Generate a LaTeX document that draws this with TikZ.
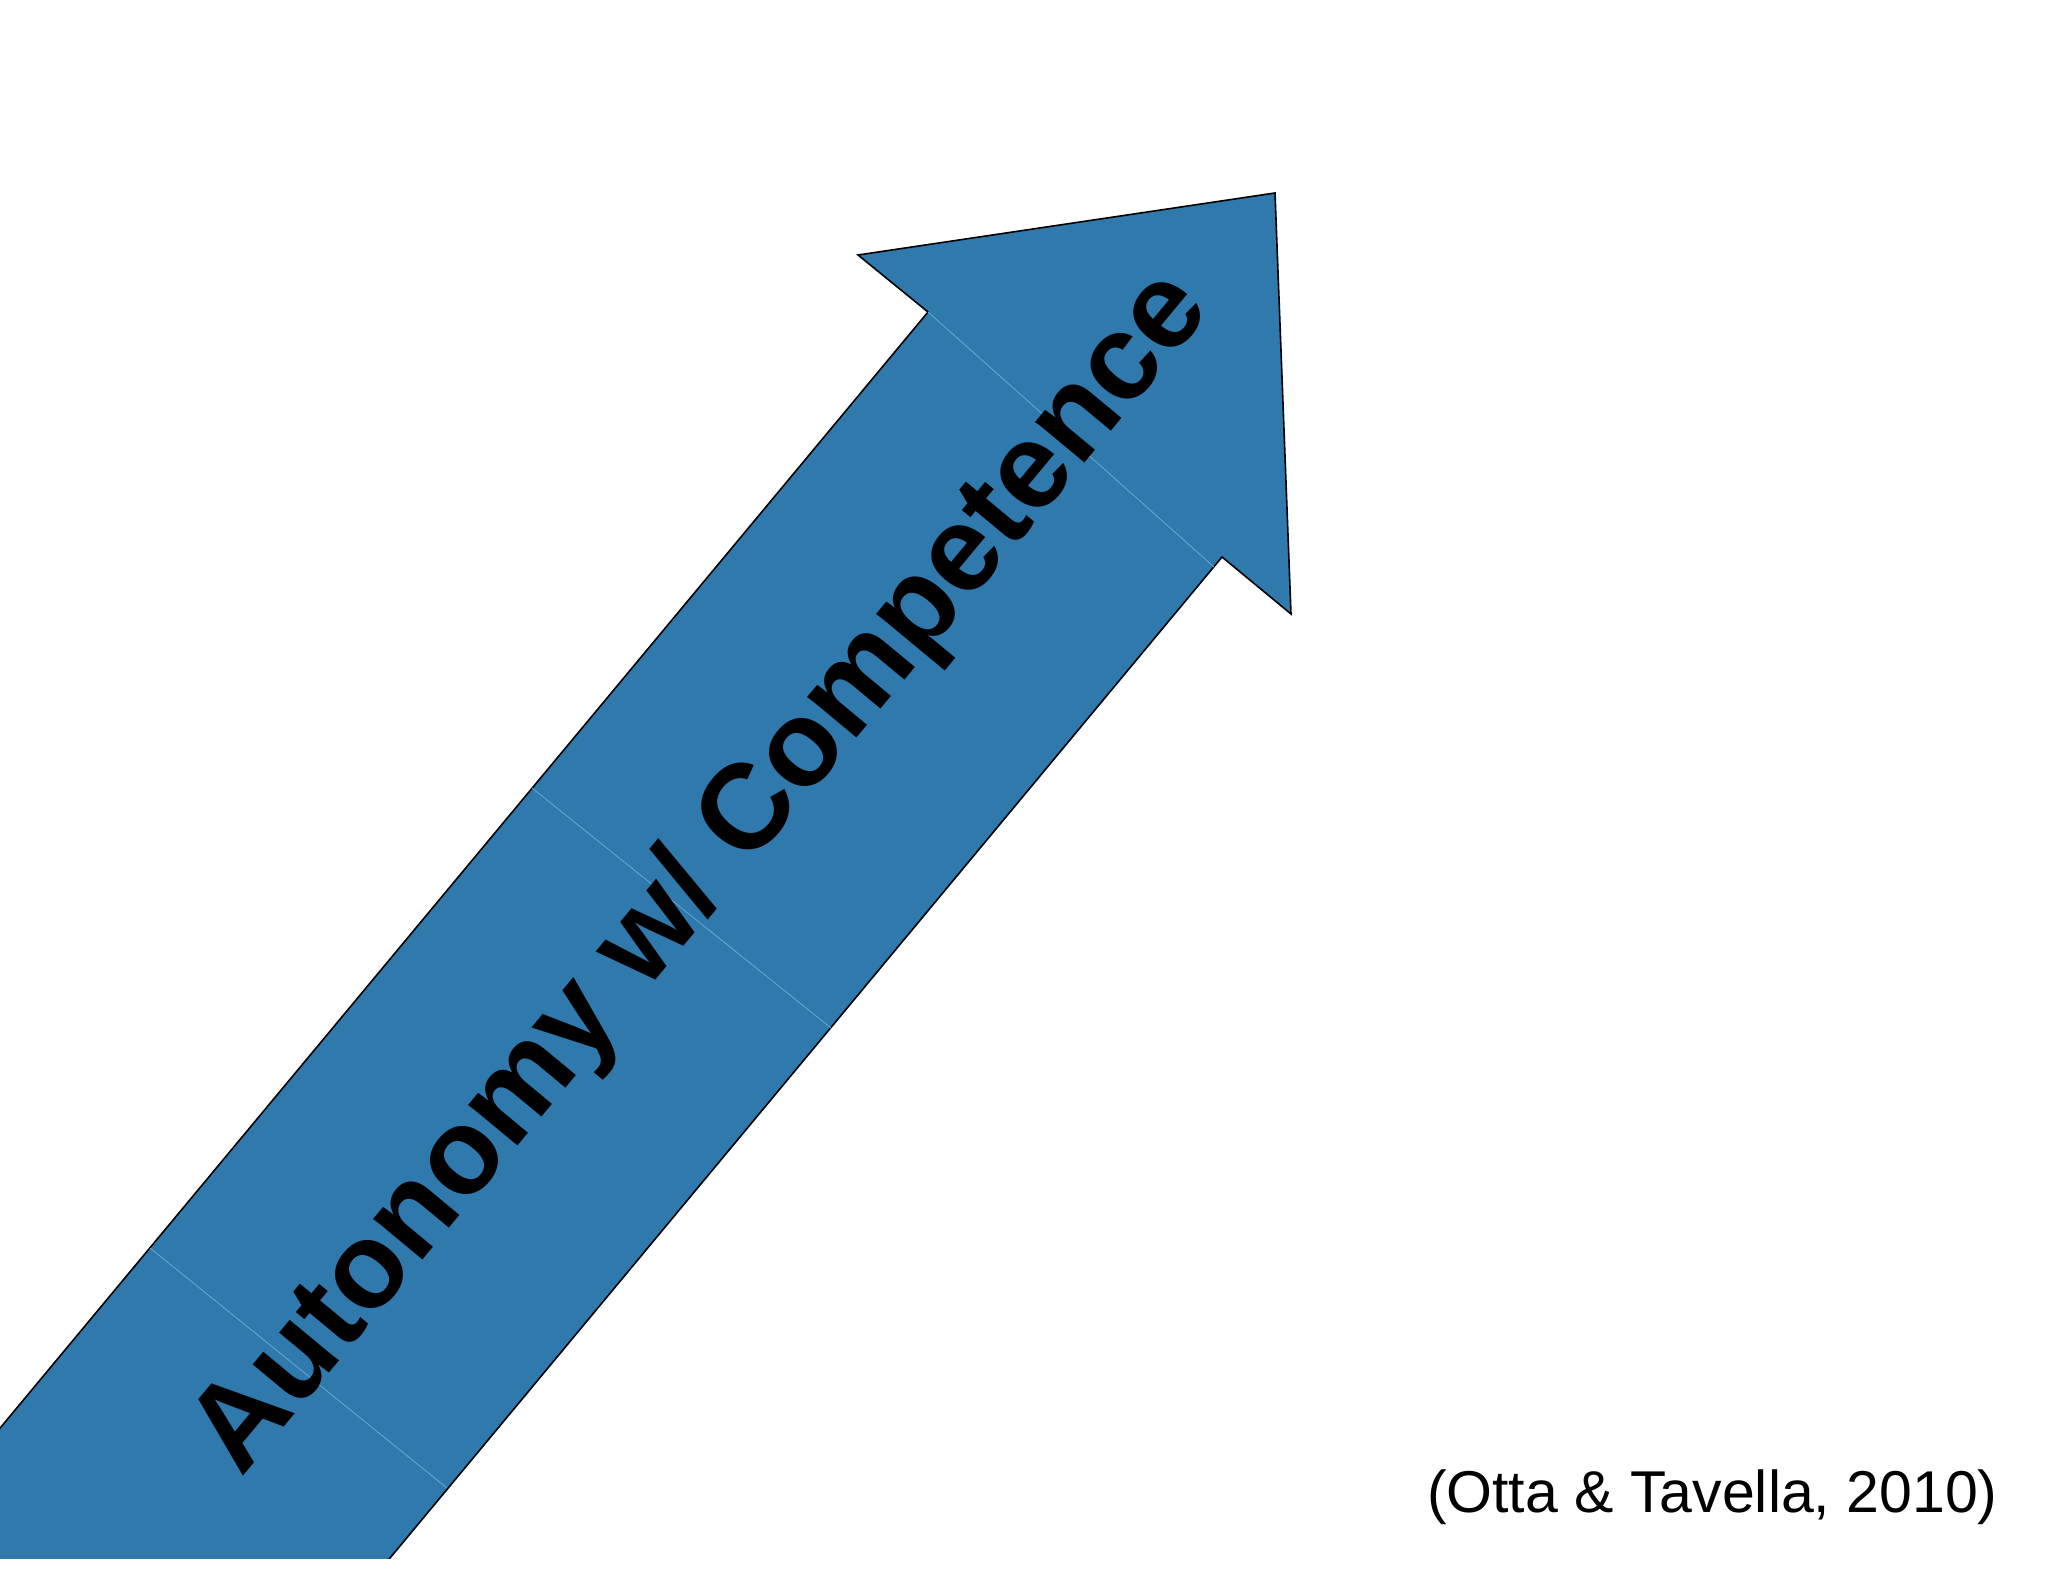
\documentclass[tikz,border=0pt]{standalone}
\usepackage{fontspec}
\setmainfont{Liberation Sans}
\definecolor{arrowblue}{HTML}{3079AD}
\definecolor{seamblue}{HTML}{6AAEDC}
\begin{document}
\begin{tikzpicture}[x=0.5pt,y=-0.5pt,
  arrowbody/.style={fill=arrowblue,draw=black,line width=0.8pt,line join=miter},
  seam/.style={draw=seamblue,line width=0.35pt},
  bigtext/.style={font=\bfseries\fontsize{60.5}{72}\selectfont,text=black,inner sep=0pt},
  cite/.style={font=\fontsize{29.5}{35}\selectfont,text=black,inner sep=0pt}]
\path[use as bounding box] (0,0) rectangle (2048,1582);
\begin{scope}
  \clip (0,-10) rectangle (2048,1558);
  \draw[arrowbody] (-226,1700) -- (928,312) -- (858,255) -- (1275,193) -- (1291,614) -- (1222,557) -- (272,1700) -- cycle;
  \draw[seam] (928,312) -- (1214,567);
  \draw[seam] (532,788) -- (831,1028);
  \draw[seam] (150,1248) -- (447,1488);
\end{scope}
\node[bigtext,rotate=50.3] (label) at (703,874) {Autonomy w/ Competence};
\node[cite,anchor=east] (cite) at (1998,1497) {(Otta \& Tavella, 2010)};
\end{tikzpicture}
\end{document}
